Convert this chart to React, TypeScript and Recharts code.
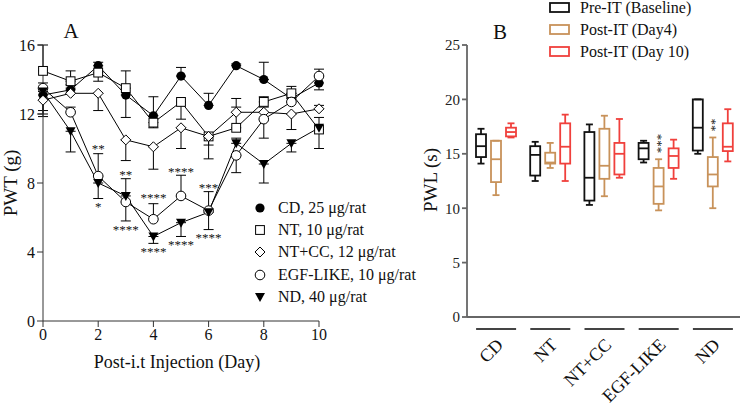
import React from 'react'
import {
  Bar,
  ComposedChart,
  ErrorBar,
  Legend,
  Line,
  ReferenceDot,
  XAxis,
  YAxis,
} from 'recharts'

const FONT = "'Liberation Serif', 'Times New Roman', serif"

// ---- panel A: PWT over days ----
const days = [0, 1, 2, 3, 4, 5, 6, 7, 8, 9, 10]
const cdMean = [13.1, 13.4, 14.8, 13.1, 11.9, 14.2, 12.5, 14.8, 14.0, 12.9, 13.8]
const cdErr = [-1.1, 0.3, 0.2, -1.3, 1.1, 0.5, 0.7, 0.1, 1.0, 0.3, -0.4]
const ntMean = [14.5, 13.9, 14.4, 13.5, 11.5, 12.7, 10.7, 11.2, 12.7, 13.2, 11.1]
const ntErr = [1.5, 0.6, -0.5, 1.0, -0.3, -1.0, -1.3, 1.7, 0.3, 0.4, -1.1]
const ntccMean = [12.8, 13.2, 13.2, 10.5, 10.1, 11.2, 10.7, 12.1, 12.1, 12.0, 12.3]
const ntccErr = [-0.6, 0.3, -1.0, -1.2, -1.3, -1.2, -0.5, 0.3, 0.3, -0.9, 0.2]
const egfMean = [13.5, 12.1, 8.4, 6.9, 5.9, 7.25, 6.4, 9.6, 11.7, 12.7, 14.2]
const egfErr = [0.3, 0.3, 1.3, -1.1, 0.9, 1.2, 1.1, -1.0, -1.1, 0.3, 0.4]
const ndMean = [13.3, 11.0, 8.0, 7.25, 4.9, 5.7, 6.3, 10.3, 9.1, 10.3, 11.2]
const ndErr = [-1.45, -1.2, -0.9, 1.0, -0.4, -0.8, -1.0, 0.3, -1.1, -0.5, 0.6]

// significance marks (day, PWT level, text)
const starDays = [2, 2, 3, 3, 4, 4, 5, 5, 6, 6]
const starLevels = [10.1, 6.7, 8.6, 5.4, 7.25, 4.1, 8.75, 4.5, 7.8, 4.9]
const starTexts = ['**', '*', '**', '****', '****', '****', '****', '****', '***', '****']

const seriesA = [
  { key: 'cd', label: 'CD, 25 μg/rat', kind: 'dot', mean: cdMean, err: cdErr },
  { key: 'nt', label: 'NT, 10 μg/rat', kind: 'square', mean: ntMean, err: ntErr },
  { key: 'ntcc', label: 'NT+CC, 12 μg/rat', kind: 'diamond', mean: ntccMean, err: ntccErr },
  { key: 'egf', label: 'EGF-LIKE, 10 μg/rat', kind: 'ring', mean: egfMean, err: egfErr },
  { key: 'nd', label: 'ND, 40 μg/rat', kind: 'tri', mean: ndMean, err: ndErr },
]

const toErr = (e: number) => (e >= 0 ? [0, e] : [-e, 0])

const rowsA = days.map((d, i) => {
  const row: any = { day: d }
  seriesA.forEach((s) => {
    row[s.key] = s.mean[i]
    row[s.key + 'E'] = toErr(s.err[i])
  })
  return row
})

// ---- panel B: PWL box plots ----
const groups = ['CD', 'NT', 'NT+CC', 'EGF-LIKE', 'ND']
const preMin = [14.1, 12.5, 10.3, 14.2, 15.0]
const preQ1 = [14.7, 13.0, 10.7, 14.5, 15.3]
const preMed = [15.7, 14.9, 12.8, 15.5, 17.4]
const preQ3 = [16.8, 15.7, 17.0, 16.0, 20.0]
const preMax = [17.3, 16.1, 17.7, 16.2, 20.0]
const d4Min = [11.2, 13.7, 11.1, 9.8, 10.0]
const d4Q1 = [12.4, 14.1, 12.7, 10.4, 12.0]
const d4Med = [14.5, 14.2, 13.9, 12.0, 13.1]
const d4Q3 = [16.2, 15.1, 17.3, 13.7, 14.7]
const d4Max = [16.2, 16.0, 18.5, 14.5, 16.5]
const d4Stars = ['', '', '', '***', '**']
const d10Min = [16.5, 12.5, 12.8, 12.7, 14.3]
const d10Q1 = [16.6, 14.1, 13.1, 13.7, 15.25]
const d10Med = [17.0, 15.65, 15.0, 14.8, 15.65]
const d10Q3 = [17.4, 17.8, 16.0, 15.5, 17.8]
const d10Max = [17.8, 18.6, 18.2, 16.3, 19.1]

const rowsB = groups.map((g, i) => ({
  group: g,
  pre: { min: preMin[i], q1: preQ1[i], med: preMed[i], q3: preQ3[i], max: preMax[i], star: '' },
  d4: { min: d4Min[i], q1: d4Q1[i], med: d4Med[i], q3: d4Q3[i], max: d4Max[i], star: d4Stars[i] },
  d10: { min: d10Min[i], q1: d10Q1[i], med: d10Med[i], q3: d10Q3[i], max: d10Max[i], star: '' },
}))

const seriesB = [
  { key: 'pre', label: 'Pre-IT (Baseline)', color: '#111111' },
  { key: 'd4', label: 'Post-IT (Day4)', color: '#C8925A' },
  { key: 'd10', label: 'Post-IT (Day 10)', color: '#F0403C' },
]

function Marker({ kind, cx, cy }: { kind: string; cx: number; cy: number }) {
  if (cx == null || cy == null) return null
  switch (kind) {
    case 'dot':
      return <circle cx={cx} cy={cy} r={4.6} fill="#000" />
    case 'square':
      return (
        <rect x={cx - 4.4} y={cy - 4.4} width={8.8} height={8.8} fill="#fff" stroke="#000" strokeWidth={1} />
      )
    case 'diamond':
      return (
        <polygon
          points={`${cx},${cy - 5} ${cx + 5},${cy} ${cx},${cy + 5} ${cx - 5},${cy}`}
          fill="#fff"
          stroke="#000"
          strokeWidth={1}
        />
      )
    case 'ring':
      return <circle cx={cx} cy={cy} r={4.8} fill="#fff" stroke="#000" strokeWidth={1} />
    default:
      return <polygon points={`${cx - 5},${cy - 4} ${cx + 5},${cy - 4} ${cx},${cy + 5}`} fill="#000" />
  }
}

function LegendA() {
  return (
    <div style={{ fontFamily: FONT, fontSize: 16, color: '#111' }}>
      {seriesA.map((s) => (
        <div key={s.key} style={{ display: 'flex', alignItems: 'center', height: 22.2 }}>
          <svg width={20} height={14} style={{ flexShrink: 0 }}>
            <Marker kind={s.kind} cx={10} cy={7} />
          </svg>
          <span style={{ marginLeft: 8, whiteSpace: 'nowrap' }}>{s.label}</span>
        </div>
      ))}
    </div>
  )
}

function LegendB() {
  return (
    <div style={{ fontFamily: FONT, fontSize: 16, color: '#111' }}>
      {seriesB.map((s) => (
        <div key={s.key} style={{ display: 'flex', alignItems: 'center', height: 22 }}>
          <svg width={22} height={14} style={{ flexShrink: 0 }}>
            <rect x={1} y={2} width={19} height={9} fill="none" stroke={s.color} strokeWidth={1.8} />
          </svg>
          <span style={{ marginLeft: 9, whiteSpace: 'nowrap' }}>{s.label}</span>
        </div>
      ))}
    </div>
  )
}

function boxShape(key: string, color: string) {
  return (p: any) => {
    const b = p.payload[key]
    const top = Math.min(p.y, p.y + p.height)
    const h = Math.abs(p.height)
    const k = h / (b.max - b.min)
    const Y = (v: number) => top + (b.max - v) * k
    const cx = p.x + p.width / 2
    const sw = 1.8
    return (
      <g key={`${key}-${p.index}`} stroke={color} strokeWidth={sw} fill="none">
        <line x1={cx} x2={cx} y1={Y(b.max)} y2={Y(b.q3)} />
        <line x1={cx} x2={cx} y1={Y(b.q1)} y2={Y(b.min)} />
        <line x1={cx - 3.5} x2={cx + 3.5} y1={Y(b.max)} y2={Y(b.max)} />
        <line x1={cx - 3.5} x2={cx + 3.5} y1={Y(b.min)} y2={Y(b.min)} />
        <rect x={p.x} y={Y(b.q3)} width={p.width} height={Y(b.q1) - Y(b.q3)} />
        <line x1={p.x} x2={p.x + p.width} y1={Y(b.med)} y2={Y(b.med)} />
        {b.star ? (
          <text
            x={cx + 6}
            y={Y(b.max) - 6}
            transform={`rotate(-90, ${cx + 6}, ${Y(b.max) - 6})`}
            fontFamily={FONT}
            fontSize={13}
            fill="#111"
            stroke="none"
            textAnchor="start"
          >
            {b.star}
          </text>
        ) : null}
      </g>
    )
  }
}

function GroupTick(p: any) {
  const { x, y, payload } = p
  return (
    <g>
      <line x1={x - 20} x2={x + 20} y1={y + 10} y2={y + 10} stroke="#444" strokeWidth={1.8} />
      <text
        x={x + 8}
        y={y + 27}
        transform={`rotate(-45, ${x + 8}, ${y + 27})`}
        textAnchor="end"
        fontFamily={FONT}
        fontSize={18}
        fill="#111"
      >
        {payload.value}
      </text>
    </g>
  )
}

export default function App() {
  const tickA = { fontFamily: FONT, fontSize: 16, fill: '#111' }
  const tickB = { fontFamily: FONT, fontSize: 15, fill: '#222' }
  return (
    <div style={{ position: 'absolute', left: 0, top: 0, width: 740, height: 405, background: '#fff' }}>
      <div style={{ position: 'absolute', left: 0, top: 0 }}>
        <ComposedChart width={370} height={405} data={rowsA} margin={{ top: 45, right: 51, bottom: 0, left: 0 }}>
          <XAxis
            type="number"
            dataKey="day"
            domain={[0, 10]}
            ticks={[0, 2, 4, 6, 8, 10]}
            height={84}
            stroke="#333"
            tickSize={6}
            tick={tickA}
          />
          <YAxis
            type="number"
            domain={[0, 16]}
            ticks={[0, 4, 8, 12, 16]}
            width={43}
            stroke="#333"
            tickSize={6}
            tick={tickA}
          />
          {seriesA.map((s) => (
            <Line
              key={s.key}
              dataKey={s.key}
              type="linear"
              stroke="#000"
              strokeWidth={1}
              isAnimationActive={false}
              activeDot={false}
              dot={(p: any) => <Marker key={`${s.key}-${p.index}`} kind={s.kind} cx={p.cx} cy={p.cy} />}
            >
              <ErrorBar dataKey={s.key + 'E'} width={5} stroke="#000" strokeWidth={1} />
            </Line>
          ))}
          {starDays.map((d, i) => (
            <ReferenceDot
              key={`star-${i}`}
              x={d}
              y={starLevels[i]}
              r={0}
              ifOverflow="visible"
              shape={(p: any) => (
                <text x={p.cx} y={p.cy + 6} textAnchor="middle" fontFamily={FONT} fontSize={13} fill="#111">
                  {starTexts[i]}
                </text>
              )}
            />
          ))}
          <Legend
            layout="vertical"
            align="center"
            verticalAlign="middle"
            content={() => <LegendA />}
            wrapperStyle={{ left: 250, top: 197, width: 160 }}
          />
        </ComposedChart>
      </div>
      <div style={{ position: 'absolute', left: 370, top: 0 }}>
        <ComposedChart width={370} height={405} data={rowsB} margin={{ top: 45, right: 0, bottom: 0, left: 0 }} barGap={5}>
          <XAxis
            dataKey="group"
            height={88}
            stroke="#666"
            strokeWidth={1.8}
            tickLine={false}
            tickSize={0}
            padding={{ left: 2, right: 0 }}
            tick={<GroupTick />}
            interval={0}
          />
          <YAxis
            type="number"
            domain={[0, 25]}
            ticks={[0, 5, 10, 15, 20, 25]}
            width={97}
            stroke="#666"
            strokeWidth={1.8}
            tickSize={5}
            tick={tickB}
          />
          {seriesB.map((s) => (
            <Bar
              key={s.key}
              dataKey={(r: any) => [r[s.key].min, r[s.key].max]}
              barSize={10}
              isAnimationActive={false}
              shape={boxShape(s.key, s.color)}
            />
          ))}
          <Legend
            layout="vertical"
            align="center"
            verticalAlign="middle"
            content={() => <LegendB />}
            wrapperStyle={{ left: 179, top: -3, width: 190 }}
          />
        </ComposedChart>
      </div>
      <svg
        width={740}
        height={405}
        style={{ position: 'absolute', left: 0, top: 0, pointerEvents: 'none' }}
        fontFamily={FONT}
        fill="#111"
      >
        <text x={71} y={38} fontSize={21} textAnchor="middle">A</text>
        <text x={500} y={39} fontSize={21} textAnchor="middle">B</text>
        <text x={177} y={368} fontSize={18} textAnchor="middle">Post-i.t Injection (Day)</text>
        <text x={17} y={183} fontSize={19} textAnchor="middle" transform="rotate(-90, 17, 183)">PWT (g)</text>
        <text x={437} y={180} fontSize={19} textAnchor="middle" transform="rotate(-90, 437, 180)">PWL (s)</text>
      </svg>
    </div>
  )
}
